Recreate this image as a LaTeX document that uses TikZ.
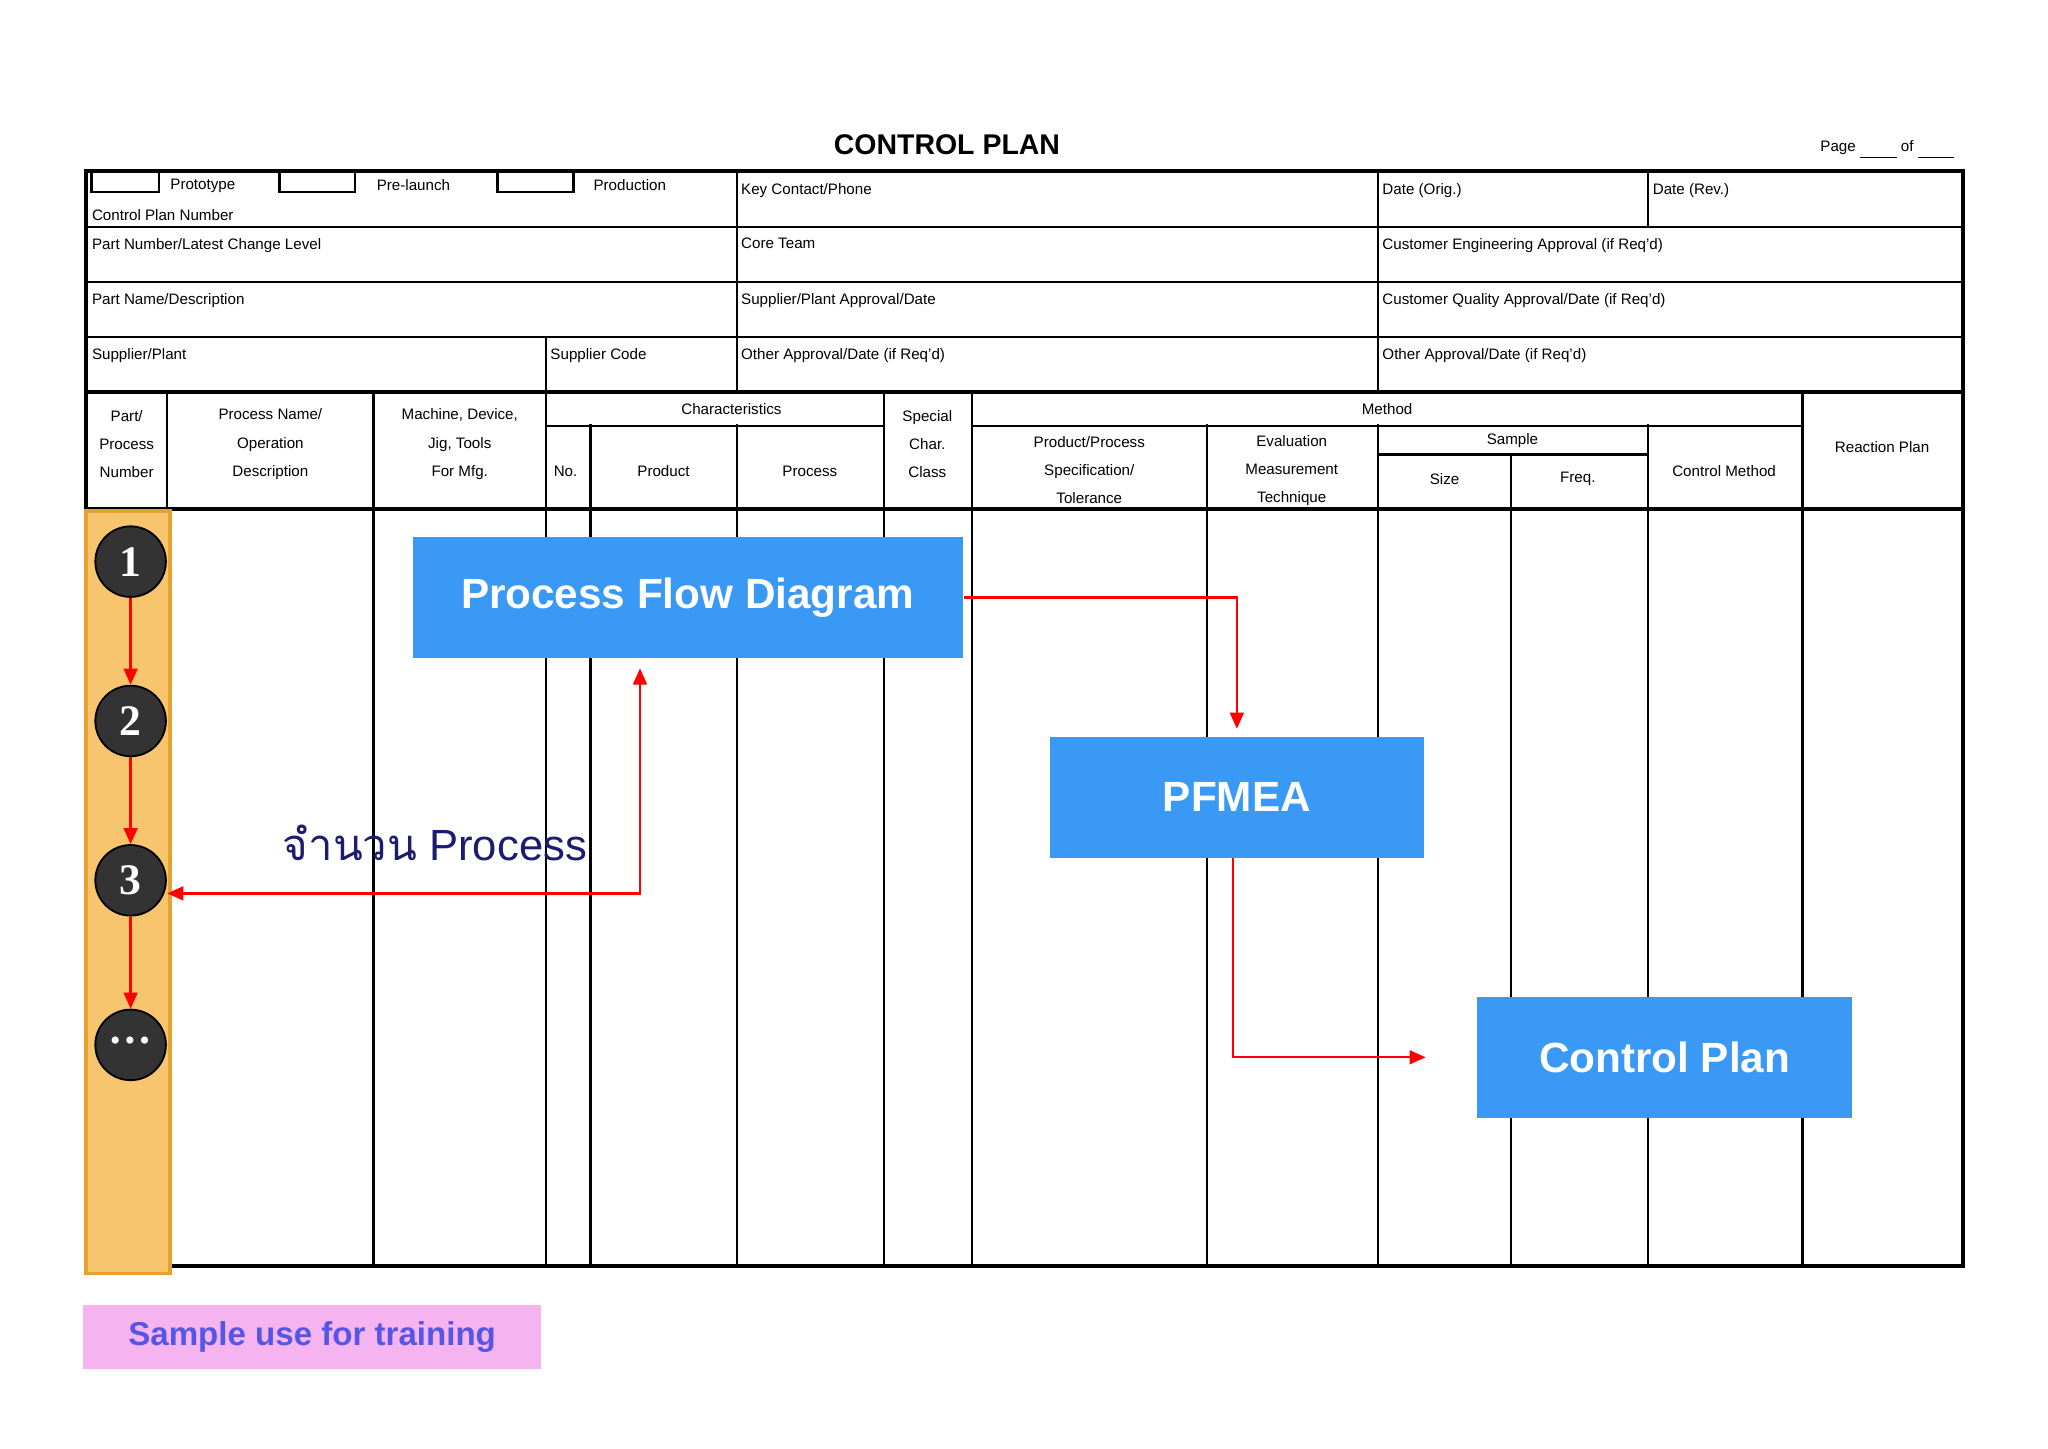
\documentclass[tikz,border=0pt]{standalone}
\usepackage{fontspec}
\setmainfont{Liberation Sans}
\newfontfamily\thaifont[Script=Thai]{Loma}
\newfontfamily\numfont{Liberation Serif}
\usetikzlibrary{arrows.meta}
\definecolor{boxblue}{HTML}{3A99F5}
\definecolor{orng}{HTML}{F8C56F}
\definecolor{orngd}{HTML}{E8A030}
\definecolor{navy}{HTML}{1C1C70}
\definecolor{pinkb}{HTML}{F5B4F0}
\definecolor{purp}{HTML}{5656E6}
\begin{document}
\begin{tikzpicture}[x=0.01cm,y=-0.01cm,
  tl/.style={font=\fontsize{3.3}{4.2}\selectfont,inner sep=0.5pt,anchor=north west},
  hc/.style={font=\fontsize{3.3}{6.1}\selectfont,align=center,inner sep=0},
  thick line/.style={line width=0.9pt},
  thin line/.style={line width=0.5pt},
  bbox/.style={fill=boxblue,text=white,font=\fontsize{9.2}{11}\selectfont\bfseries,inner sep=0},
  circ/.style={circle,fill=black!80,draw=black,minimum size=0.54cm,inner sep=0,text=white,font=\numfont\fontsize{9.5}{10}\selectfont\bfseries},
  rarr/.style={red,line width=0.5pt,-{Triangle[length=3.5pt,width=3pt]}}]
\useasboundingbox (0,0) rectangle (1568,1109);
\fill[white] (0,0) rectangle (1568,1109);
% title
\node[font=\fontsize{6.2}{7}\selectfont\bfseries] (title) at (725,111) {CONTROL PLAN};
\node[font=\fontsize{3.3}{4}\selectfont] (page) at (1445,115) {Page \underline{\hspace{0.28cm}} of \underline{\hspace{0.28cm}}};
% header rows
\draw[thin line] (66,174)--(1503,174) (66,216)--(1503,216) (66,258)--(1503,258);
\draw[thin line] (564,131)--(564,300) (1055,131)--(1055,300) (1262,131)--(1262,174) (418,258)--(418,300);
\draw[thin line] (70,131)|-(122,147)--(122,131) (214,131)|-(272,147)--(272,131) (381,131)|-(439,147)--(439,131);
\node[tl] (t1) at (128,135) {Prototype};
\node[tl] (t2) at (286,135) {Pre-launch};
\node[tl] (t3) at (452,135) {Production};
\node[tl] (t4) at (68,158) {Control Plan Number};
\node[tl] (t5) at (565,138) {Key Contact/Phone};
\node[tl] (t6) at (1056,138) {Date (Orig.)};
\node[tl] (t7) at (1263,138) {Date (Rev.)};
\node[tl] (t8) at (68,180) {Part Number/Latest Change Level};
\node[tl] (t9) at (565,180) {Core Team};
\node[tl] (t10) at (1056,180) {Customer Engineering Approval (if Req'd)};
\node[tl] (t11) at (68,222) {Part Name/Description};
\node[tl] (t12) at (565,222) {Supplier/Plant Approval/Date};
\node[tl] (t13) at (1056,222) {Customer Quality Approval/Date (if Req'd)};
\node[tl] (t14) at (68,264) {Supplier/Plant};
\node[tl] (t15) at (419,264) {Supplier Code};
\node[tl] (t16) at (565,264) {Other Approval/Date (if Req'd)};
\node[tl] (t17) at (1056,264) {Other Approval/Date (if Req'd)};
% main header
\draw[thick line] (66,300)--(1503,300) (66,390)--(1503,390);
\foreach \x in {128,286,418,452,564,677,744,924,1055,1157,1262,1380}{\draw[thin line] (\x,300)--(\x,969);}
\draw[thin line] (452,300)--(452,326);
\draw[white,line width=1.2pt] (452,301.5)--(452,325) (564,301.5)--(564,325) (924,301.5)--(924,325) (1055,301.5)--(1055,325) (1157,301.5)--(1157,347) (1262,301.5)--(1262,325);
\draw[thin line] (418,326)--(677,326) (744,326)--(1380,326) (1055,348)--(1262,348);
\node[hc] (h1) at (97,340) {Part/\\Process\\Number};
\node[hc] (h2) at (207,340) {Process Name/\\Operation\\Description};
\node[hc] (h3) at (352,340) {Machine, Device,\\Jig, Tools\\For Mfg.};
\node[hc] (h4) at (560,313) {Characteristics};
\node[hc] (h5) at (433,361) {No.};
\node[hc] (h6) at (508,361) {Product};
\node[hc] (h7) at (620,361) {Process};
\node[hc] (h8) at (710,340) {Special\\Char.\\Class};
\node[hc] (h9) at (1062,313) {Method};
\node[hc] (h10) at (834,360) {Product/Process\\Specification/\\Tolerance};
\node[hc] (h11) at (989,360) {Evaluation\\Measurement\\Technique};
\node[hc] (h12) at (1158,337) {Sample};
\node[hc] (h13) at (1106,367) {Size};
\node[hc] (h14) at (1208,367) {Freq.};
\node[hc] (h15) at (1320,361) {Control Method};
\node[hc] (h16) at (1441,342) {Reaction Plan};
% outer frame
\draw[thick line] (66,131) rectangle (1503,969);
% orange strip
\fill[orng,draw=orngd,line width=0.8pt] (66,391) rectangle (130,975);
% circles
\node[circ] (c1) at (100,430) {1};
\node[circ] (c2) at (100,552) {2};
\node[circ] (c3) at (100,674) {3};
\node[circ] (c4) at (100,800) {\raisebox{0.5ex}{\dots}};
\draw[rarr] (c1)--(c2);
\draw[rarr] (c2)--(c3);
\draw[rarr] (c3)--(c4);
% boxes
\node[bbox,minimum width=4.21cm,minimum height=0.93cm] (pfd) at (526.5,457.5) {Process Flow Diagram};
\node[bbox,minimum width=2.86cm,minimum height=0.93cm] (pfmea) at (947,610.5) {PFMEA};
\node[bbox,minimum width=2.87cm,minimum height=0.93cm] (cp) at (1274.5,809.5) {Control Plan};
\draw[rarr] (pfd.east)++(0,0) -| ([yshift=1.5pt]pfmea.north);
\coordinate (pmb) at (944,657);
\coordinate (cpl) at ([xshift=-11]cp.west);
\draw[rarr] (pmb) |- (cpl);
\coordinate (ln) at (490,684);
\draw[red,line width=0.5pt,{Triangle[length=3.5pt,width=3pt]}-{Triangle[length=3.5pt,width=3pt]}] (128,684) -- (ln) -- ([yshift=-2]pfd.south -| ln);
\node[text=navy,font=\fontsize{9.5}{11}\selectfont] (thai) at (333,645) {{\thaifont จำนวน} Process};
% sample
\node[fill=pinkb,text=purp,font=\fontsize{7.2}{8}\selectfont\bfseries,minimum width=3.5cm,minimum height=0.49cm,inner sep=0] (samp) at (239,1023.5) {Sample use for training};
\end{tikzpicture}
\end{document}
